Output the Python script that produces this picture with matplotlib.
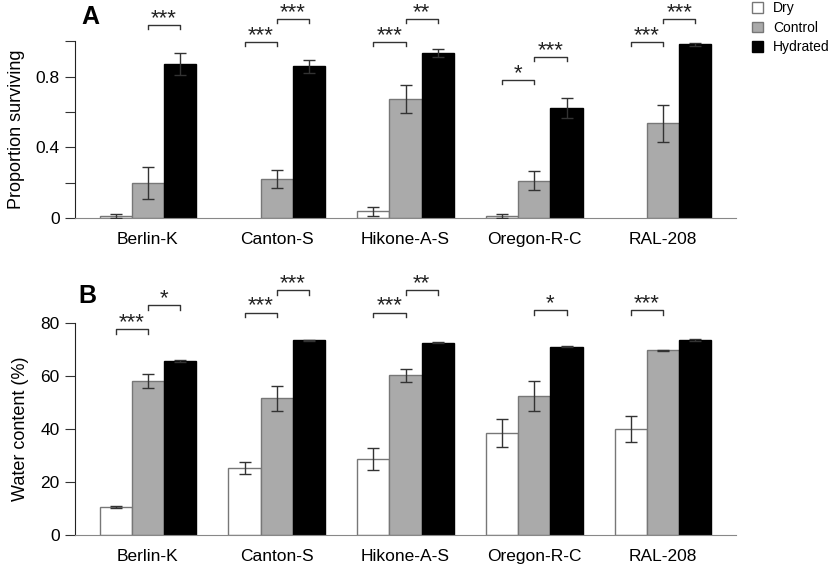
import matplotlib.pyplot as plt
import matplotlib.patches as mpatches
import numpy as np

plt.rcParams['font.family'] = ['Liberation Sans', 'DejaVu Sans']

strains = ['Berlin-K', 'Canton-S', 'Hikone-A-S', 'Oregon-R-C', 'RAL-208']
groups = ['Dry', 'Control', 'Hydrated']

# 存活比例 (A)
surv_dry = [0.013, 0.0, 0.038, 0.011, 0.0]
surv_dry_err = [0.011, 0.0, 0.025, 0.012, 0.0]
surv_ctrl = [0.198, 0.222, 0.672, 0.211, 0.536]
surv_ctrl_err = [0.09, 0.052, 0.08, 0.053, 0.105]
surv_hyd = [0.872, 0.858, 0.934, 0.623, 0.983]
surv_hyd_err = [0.06, 0.036, 0.025, 0.057, 0.01]

# 含水量 (B)
water_dry = [10.5, 25.4, 28.7, 38.7, 40.1]
water_dry_err = [0.4, 2.3, 4.2, 5.3, 5.0]
water_ctrl = [58.1, 51.7, 60.3, 52.5, 69.8]
water_ctrl_err = [2.7, 4.7, 2.4, 5.8, 0.3]
water_hyd = [65.8, 73.6, 72.7, 71.2, 73.7]
water_hyd_err = [0.3, 0.2, 0.3, 0.3, 0.3]

# 显著性标记: (组, 左柱, 右柱, 高度, 文字)
sig_a = [(0, 1, 2, 1.092, '***'),
         (1, 0, 1, 0.996, '***'), (1, 1, 2, 1.126, '***'),
         (2, 0, 1, 0.996, '***'), (2, 1, 2, 1.126, '**'),
         (3, 0, 1, 0.781, '*'), (3, 1, 2, 0.911, '***'),
         (4, 0, 1, 0.996, '***'), (4, 1, 2, 1.126, '***')]
sig_b = [(0, 0, 1, 77.9, '***'), (0, 1, 2, 86.9, '*'),
         (1, 0, 1, 84.0, '***'), (1, 1, 2, 92.6, '***'),
         (2, 0, 1, 84.0, '***'), (2, 1, 2, 92.6, '**'),
         (3, 1, 2, 84.9, '*'),
         (4, 0, 1, 84.9, '***')]

face = ['white', '#aaaaaa', 'black']
edge = ['#777777', '#777777', 'black']
w = 0.25
x = np.arange(len(strains))


def draw_panel(ax, vals, errs, sigs, ymax, drop):
    for i in range(3):
        pos = x + (i - 1) * w
        v = np.array(vals[i])
        e = np.array(errs[i])
        mask = v > 0
        ax.bar(pos[mask], v[mask], w, color=face[i], edgecolor=edge[i],
               linewidth=1.0, zorder=2)
        ax.errorbar(pos[mask], v[mask], yerr=e[mask], fmt='none',
                    ecolor='#333333', elinewidth=1.0, capsize=4, capthick=1.0,
                    zorder=3)
    for g, a, b, h, txt in sigs:
        x1 = g + (a - 1) * w
        x2 = g + (b - 1) * w
        ax.plot([x1, x1, x2, x2], [h - drop, h, h, h - drop], color='#333333',
                lw=1.0, clip_on=False)
        ax.annotate(txt, ((x1 + x2) / 2, h), xytext=(0, 0.8),
                    textcoords='offset points', ha='center', va='baseline',
                    fontsize=16, color='#222222', annotation_clip=False)
    ax.set_xlim(-0.566, 4.566)
    ax.set_ylim(0, ymax)
    ax.set_xticks(x)
    ax.set_xticklabels(strains, fontsize=12.5)
    ax.tick_params(axis='x', length=0, pad=10)
    ax.tick_params(axis='y', direction='out', length=7, pad=4, labelsize=12.5,
                   color='#333333')
    ax.spines['top'].set_visible(False)
    ax.spines['right'].set_visible(False)
    ax.spines['bottom'].set_color('#888888')
    ax.spines['left'].set_color('#222222')


fig = plt.figure(figsize=(8.3, 5.67), dpi=100)
ax1 = fig.add_axes([0.0904, 0.6155, 0.7964, 0.3116])
ax2 = fig.add_axes([0.0904, 0.0564, 0.7964, 0.3734])

draw_panel(ax1, [surv_dry, surv_ctrl, surv_hyd],
           [surv_dry_err, surv_ctrl_err, surv_hyd_err], sig_a, 1.0, 0.025)
ax1.set_yticks([0, 0.2, 0.4, 0.6, 0.8, 1.0])
ax1.set_yticklabels(['0', '', '0.4', '', '0.8', ''])
ax1.set_ylabel('Proportion surviving', fontsize=13, labelpad=8)

draw_panel(ax2, [water_dry, water_ctrl, water_hyd],
           [water_dry_err, water_ctrl_err, water_hyd_err], sig_b, 80, 1.8)
ax2.set_yticks([0, 20, 40, 60, 80])
ax2.set_ylabel('Water content (%)', fontsize=13, labelpad=8)

fig.text(0.098, 0.97, 'A', fontsize=18, fontweight='bold', ha='left', va='center')
fig.text(0.095, 0.478, 'B', fontsize=18, fontweight='bold', ha='left', va='center')

handles = [mpatches.Patch(facecolor=face[i], edgecolor=edge[i], label=groups[i])
           for i in range(3)]
fig.legend(handles=handles, loc='upper left', bbox_to_anchor=(0.906, 0.998),
           frameon=False, fontsize=10, handlelength=0.8, handleheight=0.8,
           handletextpad=0.7, labelspacing=0.4, borderpad=0, borderaxespad=0)

fig.savefig('out.png', dpi=100)
